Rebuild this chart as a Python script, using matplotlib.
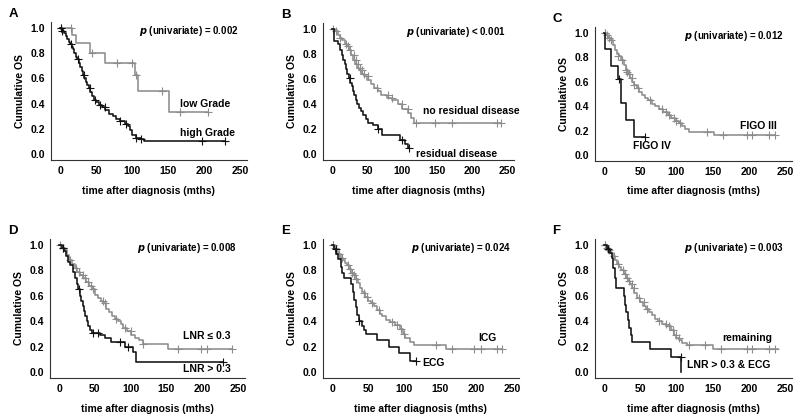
import matplotlib

matplotlib.use("Agg")
import matplotlib.pyplot as plt

plt.rcParams["font.family"] = ["Liberation Sans", "DejaVu Sans"]
plt.rcParams["font.weight"] = "bold"

GRAY = "#8c8c8c"
BLACK = "#111111"

# ---- panel A : grade ----
a_low_t = [0, 16, 22, 42, 62, 104, 108, 152]
a_low_s = [1.0, 0.944, 0.878, 0.804, 0.72, 0.627, 0.502, 0.333]
a_low_end = 206
a_low_ct = [2, 15, 44, 79, 100, 106, 141, 166, 206]
a_low_cs = [1.0, 1.0, 0.804, 0.72, 0.72, 0.627, 0.502, 0.333, 0.333]

a_high_t = [0, 2, 4, 6, 8, 10, 12, 14, 16, 18, 20, 22, 24, 26, 28, 30, 32, 34, 36, 38, 40,
            42, 44, 47, 50, 54, 58, 63, 68, 73, 78, 84, 90, 94, 97, 100, 106, 112, 116]
a_high_s = [1.0, 0.99, 0.98, 0.96, 0.94, 0.91, 0.89, 0.87, 0.85, 0.83, 0.80, 0.77, 0.75,
            0.72, 0.69, 0.66, 0.63, 0.60, 0.57, 0.55, 0.52, 0.49, 0.46, 0.43, 0.41, 0.39,
            0.37, 0.35, 0.32, 0.30, 0.28, 0.26, 0.24, 0.22, 0.19, 0.15, 0.13, 0.12, 0.10]
a_high_end = 229
a_high_ct = [1, 3, 15, 25, 33, 41, 48, 55, 62, 84, 92, 106, 113, 197, 229]
a_high_cs = [1.0, 0.98, 0.87, 0.75, 0.63, 0.52, 0.43, 0.39, 0.37, 0.26, 0.24, 0.13, 0.12, 0.10, 0.10]

# ---- panel B : residual disease ----
b_no_t = [0, 4, 8, 11, 14, 18, 21, 24, 27, 30, 33, 36, 39, 42, 45, 50, 55, 60, 66, 70, 78,
          86, 94, 100, 108, 113, 117]
b_no_s = [1.0, 0.98, 0.95, 0.93, 0.91, 0.88, 0.86, 0.83, 0.79, 0.75, 0.72, 0.69, 0.67, 0.64,
          0.62, 0.59, 0.56, 0.53, 0.50, 0.47, 0.45, 0.43, 0.40, 0.36, 0.33, 0.29, 0.25]
b_no_end = 241
b_no_ct = [2, 6, 12, 20, 23, 26, 31, 34, 37, 40, 43, 46, 52, 64, 80, 86, 100, 108, 120, 147,
           171, 235, 241]
b_no_cs = [1.0, 0.98, 0.93, 0.88, 0.86, 0.83, 0.79, 0.75, 0.72, 0.69, 0.67, 0.64, 0.62, 0.53,
           0.47, 0.45, 0.40, 0.36, 0.25, 0.25, 0.25, 0.25, 0.25]

b_res_t = [0, 3, 9, 12, 14, 16, 18, 20, 22, 24, 26, 28, 30, 32, 34, 36, 38, 41, 44, 48, 52,
           58, 66, 72, 97, 104, 108]
b_res_s = [1.0, 0.90, 0.88, 0.83, 0.79, 0.75, 0.72, 0.68, 0.64, 0.61, 0.57, 0.54, 0.50,
           0.47, 0.43, 0.40, 0.37, 0.34, 0.31, 0.28, 0.25, 0.23, 0.20, 0.15, 0.11, 0.08, 0.05]
b_res_end = 110
b_res_ct = [25, 65, 100, 110]
b_res_cs = [0.61, 0.20, 0.11, 0.05]

# ---- panel C : FIGO ----
c_iii_t = [0, 3, 6, 9, 12, 15, 18, 21, 24, 27, 30, 33, 36, 39, 42, 45, 49, 53, 57, 61, 66,
           71, 76, 82, 88, 93, 98, 103, 108, 112, 117, 152]
c_iii_s = [1.0, 0.98, 0.96, 0.94, 0.90, 0.86, 0.83, 0.81, 0.78, 0.74, 0.70, 0.66, 0.63, 0.60,
           0.57, 0.55, 0.52, 0.49, 0.47, 0.45, 0.42, 0.40, 0.38, 0.35, 0.33, 0.30, 0.28, 0.26,
           0.24, 0.21, 0.19, 0.16]
c_iii_end = 236
c_iii_ct = [1, 2, 4, 7, 10, 20, 25, 30, 32, 34, 38, 42, 47, 63, 80, 86, 90, 96, 100, 105, 142,
            165, 197, 204, 228, 236]
c_iii_cs = [1.0, 1.0, 0.98, 0.96, 0.94, 0.81, 0.78, 0.70, 0.68, 0.66, 0.63, 0.57, 0.55, 0.45,
            0.38, 0.35, 0.33, 0.30, 0.28, 0.26, 0.19, 0.16, 0.16, 0.16, 0.16, 0.16]

c_iv_t = [0, 1, 10, 20, 24, 31, 42]
c_iv_s = [1.0, 0.87, 0.73, 0.62, 0.43, 0.29, 0.145]
c_iv_end = 57
c_iv_ct = [21, 57]
c_iv_cs = [0.62, 0.145]

# ---- panel D : LNR ----
d_low_t = [0, 4, 8, 11, 14, 18, 22, 25, 30, 34, 38, 42, 46, 50, 54, 58, 62, 66, 70, 74, 78,
           82, 86, 90, 95, 100, 106, 112, 117, 152]
d_low_s = [1.0, 0.98, 0.96, 0.92, 0.88, 0.85, 0.82, 0.79, 0.76, 0.74, 0.71, 0.68, 0.65, 0.61,
           0.58, 0.56, 0.54, 0.50, 0.47, 0.44, 0.42, 0.40, 0.38, 0.35, 0.32, 0.29, 0.27, 0.25,
           0.22, 0.18]
d_low_end = 241
d_low_ct = [2, 6, 16, 24, 28, 33, 36, 40, 44, 47, 62, 64, 80, 92, 100, 118, 166, 199, 207, 241]
d_low_cs = [1.0, 0.98, 0.88, 0.82, 0.79, 0.76, 0.74, 0.71, 0.68, 0.65, 0.56, 0.54, 0.42, 0.35,
            0.32, 0.22, 0.18, 0.18, 0.18, 0.18]

d_high_t = [0, 4, 7, 10, 13, 16, 19, 22, 25, 27, 29, 31, 33, 35, 37, 39, 41, 43, 46, 57, 64,
            73, 92, 104, 108]
d_high_s = [1.0, 0.98, 0.95, 0.91, 0.87, 0.84, 0.79, 0.74, 0.69, 0.65, 0.60, 0.56, 0.52, 0.48,
            0.44, 0.40, 0.36, 0.33, 0.31, 0.29, 0.27, 0.24, 0.20, 0.16, 0.08]
d_high_end = 229
d_high_ct = [5, 28, 48, 55, 85, 96, 229]
d_high_cs = [0.98, 0.65, 0.31, 0.31, 0.24, 0.20, 0.08]

# ---- panel E : ICG / ECG ----
e_icg_t = [0, 3, 6, 9, 12, 15, 18, 21, 24, 27, 30, 33, 36, 39, 42, 46, 50, 54, 58, 62, 66,
           70, 75, 80, 88, 94, 98, 102, 108, 114, 158]
e_icg_s = [1.0, 0.98, 0.95, 0.93, 0.90, 0.88, 0.86, 0.84, 0.81, 0.78, 0.76, 0.73, 0.70, 0.66,
           0.63, 0.59, 0.56, 0.54, 0.52, 0.49, 0.46, 0.44, 0.41, 0.39, 0.37, 0.34, 0.30, 0.27,
           0.24, 0.21, 0.18]
e_icg_end = 236
e_icg_ct = [1, 2, 4, 10, 14, 22, 25, 28, 31, 34, 44, 48, 56, 65, 84, 90, 96, 100, 144, 166,
            197, 207, 229, 236]
e_icg_cs = [1.0, 1.0, 0.98, 0.93, 0.90, 0.84, 0.81, 0.78, 0.76, 0.73, 0.62, 0.59, 0.54, 0.49,
            0.39, 0.37, 0.34, 0.30, 0.21, 0.18, 0.18, 0.18, 0.18, 0.18]

e_ecg_t = [0, 3, 6, 9, 12, 14, 16, 27, 29, 31, 33, 35, 37, 41, 45, 47, 62, 79, 93, 109]
e_ecg_s = [1.0, 0.97, 0.93, 0.89, 0.83, 0.78, 0.74, 0.69, 0.63, 0.57, 0.51, 0.45, 0.40, 0.36,
           0.33, 0.30, 0.25, 0.20, 0.15, 0.09]
e_ecg_end = 117
e_ecg_ct = [5, 38, 117]
e_ecg_cs = [0.97, 0.40, 0.09]

# ---- panel F : LNR > 0.3 & ECG ----
f_rem_t = [0, 3, 6, 9, 12, 15, 18, 21, 24, 27, 30, 33, 36, 39, 42, 46, 50, 54, 58, 62, 66,
           70, 74, 80, 86, 92, 96, 100, 104, 108, 114, 151]
f_rem_s = [1.0, 0.98, 0.96, 0.94, 0.91, 0.88, 0.85, 0.83, 0.80, 0.77, 0.74, 0.72, 0.69, 0.66,
           0.62, 0.58, 0.55, 0.52, 0.50, 0.47, 0.45, 0.42, 0.40, 0.38, 0.36, 0.33, 0.29, 0.27,
           0.25, 0.23, 0.21, 0.18]
f_rem_end = 240
f_rem_ct = [1, 2, 4, 7, 14, 20, 26, 29, 32, 35, 38, 42, 48, 55, 60, 76, 86, 90, 95, 100, 104,
            118, 140, 162, 197, 204, 228, 236]
f_rem_cs = [1.0, 1.0, 0.98, 0.96, 0.91, 0.85, 0.80, 0.77, 0.74, 0.72, 0.69, 0.66, 0.58, 0.55,
            0.50, 0.40, 0.38, 0.36, 0.33, 0.29, 0.27, 0.21, 0.21, 0.18, 0.18, 0.18, 0.18, 0.18]

f_ecg_t = [0, 4, 8, 11, 13, 15, 17, 27, 29, 31, 33, 35, 37, 38, 64, 93, 107]
f_ecg_s = [1.0, 0.97, 0.94, 0.90, 0.82, 0.74, 0.66, 0.60, 0.53, 0.47, 0.41, 0.35, 0.29, 0.24,
           0.18, 0.12, 0.0]
f_ecg_end = 107
f_ecg_ct = [6, 107]
f_ecg_cs = [0.97, 0.12]

P_TEXTS = ["= 0.002", "< 0.001", "= 0.012", "= 0.008", "= 0.024", "= 0.003"]
LETTERS = ["A", "B", "C", "D", "E", "F"]

PANELS = [
    [(a_low_t, a_low_s, a_low_end, a_low_ct, a_low_cs, GRAY, "low Grade", 167, 0.40),
     (a_high_t, a_high_s, a_high_end, a_high_ct, a_high_cs, BLACK, "high Grade", 167, 0.17)],
    [(b_no_t, b_no_s, b_no_end, b_no_ct, b_no_cs, GRAY, "no residual disease", 130, 0.34),
     (b_res_t, b_res_s, b_res_end, b_res_ct, b_res_cs, BLACK, "residual disease", 120, 0.0)],
    [(c_iii_t, c_iii_s, c_iii_end, c_iii_ct, c_iii_cs, GRAY, "FIGO III", 188, 0.24),
     (c_iv_t, c_iv_s, c_iv_end, c_iv_ct, c_iv_cs, BLACK, "FIGO IV", 40, 0.076)],
    [(d_low_t, d_low_s, d_low_end, d_low_ct, d_low_cs, GRAY, "LNR \u2264 0.3", 173, 0.28),
     (d_high_t, d_high_s, d_high_end, d_high_ct, d_high_cs, BLACK, "LNR > 0.3", 173, 0.02)],
    [(e_icg_t, e_icg_s, e_icg_end, e_icg_ct, e_icg_cs, GRAY, "ICG", 203, 0.27),
     (e_ecg_t, e_ecg_s, e_ecg_end, e_ecg_ct, e_ecg_cs, BLACK, "ECG", 125, 0.07)],
    [(f_rem_t, f_rem_s, f_rem_end, f_rem_ct, f_rem_cs, GRAY, "remaining", 163, 0.27),
     (f_ecg_t, f_ecg_s, f_ecg_end, f_ecg_ct, f_ecg_cs, BLACK, "LNR > 0.3 & ECG", 115, 0.055)],
]

# pixel layout: x pixel of t=0, px per month, y pixel of 1.0, y pixel of 0.0
LAYOUT = [(60, 0.72, 28, 154), (332, 0.70, 29, 154), (604, 0.724, 33, 155),
          (59, 0.716, 245, 372), (332, 0.72, 245, 372), (604, 0.724, 245, 372)]
XLIM = (-13, 260)
YLIM = (-0.05, 1.05)
W, H = 795, 419

fig = plt.figure(figsize=(W / 100, H / 100), dpi=100)

for i, curves in enumerate(PANELS):
    x0, sc, y1, y0 = LAYOUT[i]
    left = x0 + XLIM[0] * sc
    width = (XLIM[1] - XLIM[0]) * sc
    ysc = y0 - y1
    top = y1 - (YLIM[1] - 1) * ysc
    bottom = y0 - YLIM[0] * ysc
    ax = fig.add_axes([left / W, 1 - bottom / H, width / W, (bottom - top) / H])
    for t, s, end, ct, cs, col, lab, lx, ly in curves:
        ax.step(t + [end], s + [s[-1]], where="post", color=col, lw=1.15)
        ax.plot(ct, cs, ls="none", marker="+", ms=5.5, mew=0.8, color=col)
        ax.text(lx, ly, lab, fontsize=7.5, fontweight="bold", ha="left", va="center")
    ax.set_xlim(*XLIM)
    ax.set_ylim(*YLIM)
    ax.set_xticks([0, 50, 100, 150, 200, 250])
    ax.set_yticks([0.0, 0.2, 0.4, 0.6, 0.8, 1.0])
    ax.set_yticklabels(["0.0", "0.2", "0.4", "0.6", "0.8", "1.0"])
    ax.tick_params(length=0, labelsize=7.5, pad=4)
    for lbl in ax.get_xticklabels() + ax.get_yticklabels():
        lbl.set_fontweight("bold")
    ax.spines["top"].set_visible(False)
    ax.spines["right"].set_visible(False)
    ax.spines["left"].set_color("#333333")
    ax.spines["bottom"].set_color("#333333")
    ax.set_xlabel("time after diagnosis (mths)", fontsize=7.5, fontweight="bold", labelpad=7)
    ax.set_ylabel("Cumulative OS", fontsize=7.5, fontweight="bold", labelpad=4)
    ax.text(248, 0.975, r"$\it{p}$ (univariate) " + P_TEXTS[i], fontsize=7, fontweight="bold",
            ha="right", va="center")
    fig.text((left - 42) / W, 1 - (top - 8) / H, LETTERS[i], fontsize=9.5, fontweight="bold",
             ha="left", va="center")

fig.savefig("out.png", dpi=100)
